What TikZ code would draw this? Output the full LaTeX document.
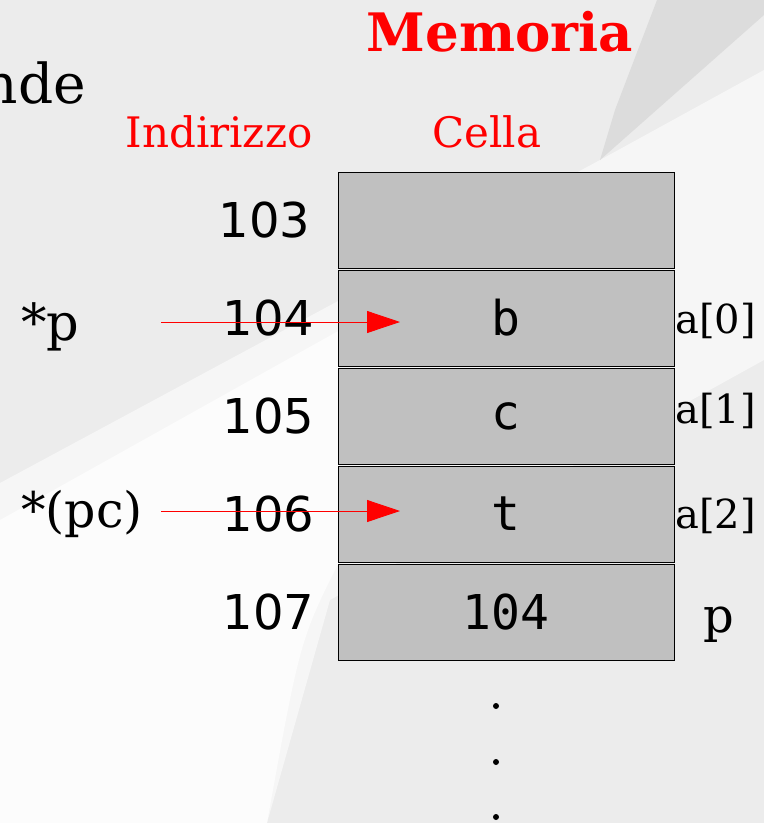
\documentclass[tikz,border=0pt]{standalone}
\usepackage{fontspec}
\setmainfont{DejaVu Serif}
\newfontfamily\sansnum{DejaVu Sans}
\newfontfamily\monocell{DejaVu Sans Mono}
\usetikzlibrary{arrows.meta}
\definecolor{sfondo}{HTML}{ECECEC}
\definecolor{chiaro}{HTML}{F6F6F6}
\definecolor{bianco}{HTML}{FCFCFC}
\definecolor{scuro}{HTML}{DCDCDC}
\definecolor{grigiocella}{HTML}{C0C0C0}
\newcommand{\fs}[1]{\fontsize{#1}{1.2\dimexpr#1\relax}\selectfont}

\begin{document}
\begin{tikzpicture}[x=1pt,y=-1pt,node distance=98pt]
    \tikzstyle{cella} = [rectangle, draw, line width=0.6pt, fill=grigiocella, minimum width=336pt, minimum height=96pt, inner sep=0pt, font=\monocell\fs{48pt}]
    \tikzstyle{indirizzo} = [inner sep=0pt, anchor=east, font=\sansnum\fs{48pt}]
    \tikzstyle{nome} = [inner sep=0pt, anchor=base west, font=\fs{40pt}]
    \tikzstyle{titolo} = [inner sep=0pt, anchor=base, text=red, font=\fs{42pt}]
    \tikzstyle{puntatore} = [red, line width=0.8pt, -{Triangle[length=33pt,width=22pt]}]

    % sfondo
    \fill[sfondo] (0,0) rectangle (764,823);
    \fill[chiaro] (0,483) -- (600,160) -- (764,70) -- (764,360) -- (330,600) -- (267,823) -- (0,823) -- cycle;
    \fill[bianco] (0,520) -- (340,330) -- (340,560) .. controls (300,640) .. (267,823) -- (0,823) -- cycle;
    \fill[scuro] (657,0) -- (764,0) -- (764,15) -- (600,160) -- (615,110) -- cycle;
    \useasboundingbox (0,0) rectangle (764,823);

    % intestazioni
    \node[inner sep=0pt, anchor=base east, font=\fs{55pt}] (testo) at (86,103) {nde};
    \node[inner sep=0pt, anchor=base, text=red, font=\bfseries\fs{53pt}] (memoria) at (500,51) {Memoria};
    \node[titolo] (indir) at (219,147) {Indirizzo};
    \node[titolo] (cellatit) at (487,147) {Cella};

    % celle
    \node[cella] (c103) at (506,220) {};
    \node[cella, below of=c103] (c104) {b};
    \node[cella, below of=c104] (c105) {c};
    \node[cella, below of=c105] (c106) {t};
    \node[cella, below of=c106] (c107) {104};

    % indirizzi
    \node[indirizzo] (n103) at ([xshift=-27pt]c103.west) {103};
    \node[indirizzo] (n104) at ([xshift=-23pt]c104.west) {104};
    \node[indirizzo] (n105) at ([xshift=-23pt]c105.west) {105};
    \node[indirizzo] (n106) at ([xshift=-23pt]c106.west) {106};
    \node[indirizzo] (n107) at ([xshift=-23pt]c107.west) {107};

    % nomi delle celle
    \node[nome] (a0) at (675,333) {a[0]};
    \node[nome] (a1) at (675,423) {a[1]};
    \node[nome] (a2) at (675,528) {a[2]};
    \node[inner sep=0pt, anchor=base, font=\fs{48pt}] (pnome) at (719,632) {p};

    % puntatori
    \node[inner sep=0pt, anchor=base west, font=\fs{51pt}] (stp) at (21,340) {*p};
    \node[inner sep=0pt, anchor=base west, font=\fs{49pt}] (stpc) at (21,527) {*(pc)};
    \coordinate (da104) at (161,322);
    \coordinate (a104) at (400,322);
    \coordinate (da106) at (161,511);
    \coordinate (a106) at (400,511);
    \draw[puntatore] (da104) -- (a104);
    \draw[puntatore] (da106) -- (a106);

    % puntini
    \foreach \y in {706,762,817}
        \fill (496,\y) circle (3pt);
\end{tikzpicture}
\end{document}
